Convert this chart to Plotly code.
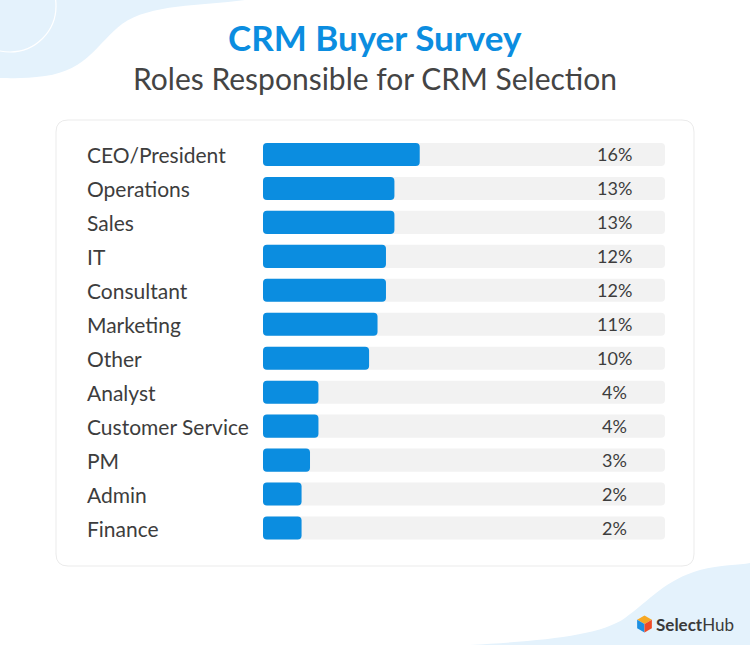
import math
import plotly.graph_objects as go

# ---- data ----
roles = ["CEO/President", "Operations", "Sales", "IT", "Consultant", "Marketing",
         "Other", "Analyst", "Customer Service", "PM", "Admin", "Finance"]
shares = [16, 13, 13, 12, 12, 11, 10, 4, 4, 3, 2, 2]
value_labels = [f"{v}%" for v in shares]
title_text = "CRM Buyer Survey"
subtitle_text = "Roles Responsible for CRM Selection"
brand_bold = "Select"
brand_regular = "Hub"

# ---- layout constants ----
W, H = 750, 645
AX0, AX1 = -2.57, 45.06          # value-axis range (bars start at AX0)
BLUE = "#0b8de0"
TRACK = "#f2f2f2"
BLOB = "#e4f2fc"
TEXT = "#3d3d3d"
FONT = "Lato"


def px(x):
    return x / W


def py(y):
    return 1 - y / H


def path(points_cmds):
    out = []
    for cmd, pts in points_cmds:
        s = cmd
        if pts:
            s += " " + " ".join(f"{px(x):.5f},{py(y):.5f}" for x, y in pts)
        out.append(s)
    return " ".join(out)


def rounded_rect(x0, y0, x1, y1, r):
    return path([
        ("M", [(x0 + r, y0)]), ("L", [(x1 - r, y0)]), ("Q", [(x1, y0), (x1, y0 + r)]),
        ("L", [(x1, y1 - r)]), ("Q", [(x1, y1), (x1 - r, y1)]),
        ("L", [(x0 + r, y1)]), ("Q", [(x0, y1), (x0, y1 - r)]),
        ("L", [(x0, y0 + r)]), ("Q", [(x0, y0), (x0 + r, y0)]), ("Z", []),
    ])


fig = go.Figure()

fig.add_trace(go.Bar(
    y=roles, x=[AX1 - AX0] * len(roles), base=AX0, orientation="h",
    marker=dict(color=TRACK, cornerradius=4, line=dict(width=0)),
    hoverinfo="skip", showlegend=False,
))
fig.add_trace(go.Bar(
    y=roles, x=[v - AX0 for v in shares], base=AX0, orientation="h",
    marker=dict(color=BLUE, cornerradius=4, line=dict(width=0)),
    customdata=shares, hovertemplate="%{y}: %{customdata}%<extra></extra>",
    showlegend=False,
))

shapes = []
# background blobs
shapes.append(dict(type="path", xref="paper", yref="paper", layer="below",
                   fillcolor=BLOB, line=dict(width=0),
                   path=path([("M", [(0, 0)]), ("L", [(245, 0)]),
                              ("C", [(200, 6), (150, 4), (122, 24)]),
                              ("C", [(98, 42), (88, 70), (45, 76)]),
                              ("C", [(25, 79), (10, 78), (0, 78)]), ("Z", [])])))
shapes.append(dict(type="circle", xref="paper", yref="paper", layer="below",
                   x0=px(-36), x1=px(56), y0=py(-40), y1=py(52),
                   line=dict(color="white", width=1.2)))
shapes.append(dict(type="path", xref="paper", yref="paper", layer="below",
                   fillcolor=BLOB, line=dict(width=0),
                   path=path([("M", [(470, 645)]),
                              ("C", [(540, 641), (600, 636), (625, 618)]),
                              ("C", [(650, 600), (665, 580), (700, 570)]),
                              ("C", [(720, 565), (740, 565), (750, 563)]),
                              ("L", [(750, 645)]), ("Z", [])])))
# card
shapes.append(dict(type="path", xref="paper", yref="paper", layer="below",
                   fillcolor="white", line=dict(color="#ebebeb", width=1),
                   path=rounded_rect(56, 120, 694, 566, 12)))

# logo icon (hexagon made of three rhombi)
cx, cy, r = 644.5, 624, 8.5
def hv(a):
    return (cx + r * math.cos(math.radians(a)), cy - r * math.sin(math.radians(a)))
c = (cx, cy)
for pts, col in [([c, hv(30), hv(90), hv(150)], "#f7a823"),
                 ([c, hv(150), hv(210), hv(270)], "#1d8fe1"),
                 ([c, hv(270), hv(330), hv(30)], "#ef4b27")]:
    cmds = [("M", [pts[0]])] + [("L", [p]) for p in pts[1:]] + [("Z", [])]
    shapes.append(dict(type="path", xref="paper", yref="paper", layer="above",
                       fillcolor=col, line=dict(width=0), path=path(cmds)))

annotations = []
annotations.append(dict(text=f"<b>{title_text}</b>", x=0.5, y=py(37), xref="paper", yref="paper",
                        showarrow=False, font=dict(family=FONT, size=35, color=BLUE),
                        xanchor="center", yanchor="middle"))
annotations.append(dict(text=subtitle_text, x=0.5, y=py(78), xref="paper", yref="paper",
                        showarrow=False, font=dict(family=FONT, size=30, color="#444444"),
                        xanchor="center", yanchor="middle"))
for role, lab in zip(roles, value_labels):
    annotations.append(dict(text=role, x=px(84.5), y=role, xref="paper", yref="y",
                            showarrow=False, font=dict(family=FONT, size=21, color=TEXT),
                            xanchor="left", yanchor="middle"))
    annotations.append(dict(text=lab, x=px(614), y=role, xref="paper", yref="y",
                            showarrow=False, font=dict(family=FONT, size=18, color=TEXT),
                            xanchor="center", yanchor="middle"))
annotations.append(dict(text=f"<b>{brand_bold}</b>{brand_regular}", x=px(653.5), y=py(624),
                        xref="paper", yref="paper", showarrow=False,
                        font=dict(family=FONT, size=17, color="#3a3a3a"),
                        xanchor="left", yanchor="middle"))

fig.update_layout(
    width=W, height=H,
    margin=dict(l=0, r=0, t=0, b=0),
    paper_bgcolor="white", plot_bgcolor="rgba(0,0,0,0)",
    barmode="overlay", bargap=0.32,
    xaxis=dict(domain=[px(263), px(665)], range=[AX0, AX1], visible=False, fixedrange=True),
    yaxis=dict(domain=[py(545), py(137.5)], categoryorder="array", categoryarray=roles,
               range=[len(roles) - 0.5, -0.5], visible=False, fixedrange=True),
    shapes=shapes, annotations=annotations,
    font=dict(family=FONT),
)

fig.write_html("out.html", config={"displayModeBar": False},
               post_script="document.body.style.margin='0px';")
